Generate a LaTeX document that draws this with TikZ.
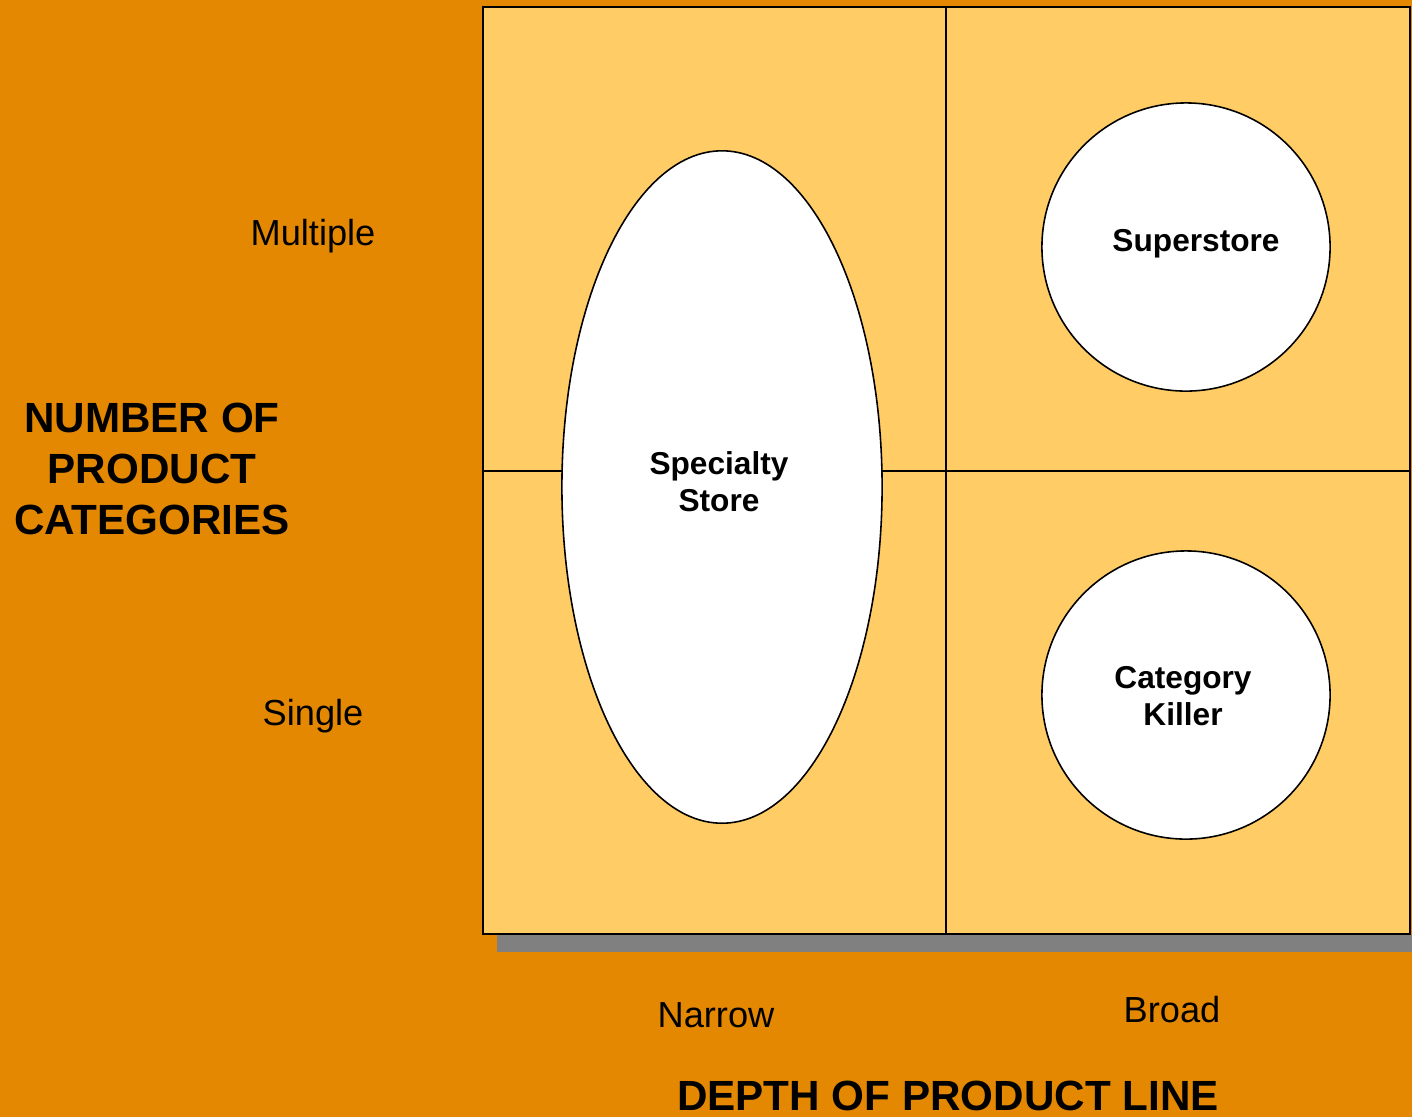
\documentclass[tikz,border=0pt]{standalone}
\usepackage{fontspec}
\setmainfont{Liberation Sans}
\usetikzlibrary{shapes.geometric}

\definecolor{bgorange}{HTML}{E38800}
\definecolor{cellfill}{HTML}{FFCC66}
\definecolor{shadowgray}{HTML}{808080}

\begin{document}
\begin{tikzpicture}
	[x=0.01cm,y=-0.01cm,
	axistitle/.style={font=\fontsize{12}{14.5}\selectfont\bfseries,align=center,inner sep=0pt},
	ticklabel/.style={font=\fontsize{10.3}{12}\selectfont,anchor=base,inner sep=0pt},
	storelabel/.style={font=\fontsize{9}{10.5}\selectfont\bfseries,align=center,inner sep=0pt},
	storeshape/.style={draw,fill=white,line width=0.45pt,inner sep=0pt}]

	% background and grid
	\fill[bgorange] (0,0) rectangle (1412,1117);
	\useasboundingbox (0,0) rectangle (1412,1117);
	\fill[shadowgray] (497,935) rectangle (1412,952);
	\draw[fill=cellfill,line width=0.6pt] (483,7) rectangle (1410,934);
	\draw[line width=0.45pt] (946,7) -- (946,934);
	\draw[line width=0.45pt] (483,471) -- (1410,471);

	% store types
	\node[storeshape,ellipse,minimum width=3.2cm,minimum height=6.72cm] (specialty) at (722,487) {};
	\node[storeshape,circle,minimum size=2.88cm] (superstore) at (1186,247) {};
	\node[storeshape,circle,minimum size=2.88cm] (killer) at (1186,695) {};

	\node[storelabel] (specialtytxt) at (719,482) {Specialty\\Store};
	\node[storelabel,anchor=base] (superstoretxt) at (1196,251) {Superstore};
	\node[storelabel] (killertxt) at (1183,696) {Category\\Killer};

	% axes
	\node[ticklabel] (multiple) at (313,245) {Multiple};
	\node[ticklabel] (single) at (313,725) {Single};
	\node[ticklabel] (narrow) at (716,1027) {Narrow};
	\node[ticklabel] (broad) at (1172,1022) {Broad};

	\node[axistitle] (ytitle) at (152,469) {NUMBER OF\\PRODUCT\\CATEGORIES};
	\node[axistitle,anchor=base] (xtitle) at (948,1110) {DEPTH OF PRODUCT LINE};

\end{tikzpicture}
\end{document}
